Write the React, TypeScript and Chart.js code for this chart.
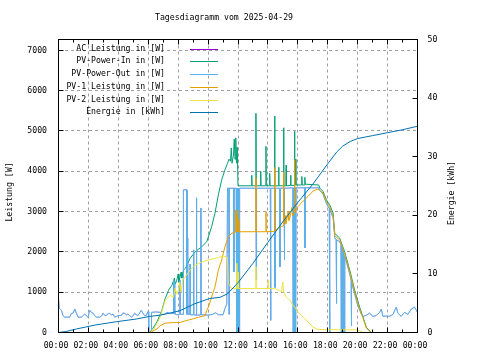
import React, { useEffect, useRef } from 'react';
import { Chart, registerables } from 'chart.js';

Chart.register(...registerables);

const FONT_FAMILY = '"DejaVu Sans Mono", monospace';
const FONT_SIZE = 8.2;

const titleText = 'Tagesdiagramm vom 2025-04-29';
const leftAxisTitle = 'Leistung [W]';
const rightAxisTitle = 'Energie [kWh]';

const seriesLabels = [
  'AC Leistung in [W]',
  'PV-Power-In in [W]',
  'PV-Power-Out in [W]',
  'PV-1 Leistung in [W]',
  'PV-2 Leistung in [W]',
  'Energie in [kWh]',
];
const seriesColors = ['#9400d3', '#009e73', '#56b4e9', '#e69f00', '#f0e442', '#0072b2'];

// [hour, watts]
const pvOut: [number, number][] = [
  [0, 850], [0.05, 600], [0.2, 550], [0.3, 420], [0.4, 380], [0.76, 380], [0.85, 470], [0.98, 480],
  [1.09, 580], [1.2, 480], [1.3, 380], [1.53, 380], [1.65, 420], [1.76, 460], [1.9, 400], [1.98, 380],
  [2.09, 550], [2.2, 500], [2.31, 480], [2.45, 400], [2.53, 380], [2.76, 380], [2.9, 420], [2.98, 480],
  [3.1, 420], [3.2, 430], [3.3, 460], [3.42, 480], [3.55, 430], [3.64, 460], [3.76, 380], [3.98, 420],
  [4.2, 420], [4.3, 480], [4.42, 480], [4.55, 430], [4.64, 460], [4.75, 420], [4.87, 380], [5.0, 420],
  [5.09, 480], [5.2, 440], [5.31, 420], [5.45, 500], [5.53, 550], [5.64, 480], [5.75, 420], [5.87, 420],
  [5.98, 520], [6.02, 520], [6.03, 0], [6.2, 0], [6.22, 500],
  [6.5, 510], [6.8, 500], [6.9, 450], [7.1, 450], [7.24, 500], [7.47, 470], [7.68, 470], [7.69, 1300],
  [7.71, 470], [7.75, 1250], [7.77, 460], [7.91, 440], [8.1, 450], [8.12, 1300], [8.14, 460], [8.34, 450],
  [8.35, 3540], [8.58, 3540], [8.59, 450], [8.64, 2340], [8.66, 450], [8.78, 450], [8.8, 1700], [8.82, 440],
  [9.02, 440], [9.03, 2050], [9.05, 440], [9.2, 430], [9.22, 3340], [9.24, 430], [9.36, 430], [9.5, 440],
  [9.52, 3090], [9.54, 440], [9.7, 440], [10.0, 430], [10.3, 450], [10.5, 490], [10.7, 440], [11.0, 440],
  [11.13, 600], [11.25, 700], [11.3, 3580], [11.38, 3580], [11.4, 450], [11.42, 3580], [11.7, 3580],
  [11.72, 1500], [11.74, 3580], [11.88, 3580], [11.9, 0], [11.92, 3580], [11.94, 0], [11.96, 3580],
  [11.98, 0], [12.0, 3580], [12.02, 0], [12.05, 3580], [12.08, 0], [12.11, 3580],
  [13.2, 3580], [13.22, 1300], [13.24, 3580], [14.16, 3580], [14.18, 300], [14.2, 3580], [14.45, 3580],
  [14.47, 1120], [14.49, 3580], [14.78, 3580], [14.8, 1630], [14.82, 3580], [15.08, 3580], [15.1, 1800],
  [15.12, 3580], [15.66, 3590], [15.68, 0], [15.71, 3590], [15.73, 0], [15.76, 3590], [15.79, 0],
  [15.82, 3590], [15.85, 0], [15.88, 3590], [16.45, 3590], [16.47, 2100], [16.49, 3590], [17.4, 3590],
  [17.47, 3520], [17.69, 3430], [17.91, 3200], [18.1, 3080], [18.12, 0], [18.15, 3050], [18.2, 3000],
  [18.36, 2850], [18.47, 2350], [18.56, 2300], [18.58, 720], [18.6, 2300], [18.8, 2250], [18.88, 2200],
  [18.9, 0], [18.93, 2150], [18.96, 0], [19.0, 2100], [19.03, 0], [19.07, 2000], [19.1, 0], [19.14, 1900],
  [19.47, 1450], [19.56, 1300], [19.58, 170], [19.6, 1250], [19.8, 950], [20.0, 680], [20.13, 560],
  [20.24, 465], [20.36, 400], [20.58, 430], [20.8, 480], [21.02, 400], [21.24, 420], [21.47, 500],
  [21.58, 580], [21.69, 400], [21.91, 410], [22.13, 400], [22.36, 450], [22.58, 630], [22.69, 480],
  [22.91, 400], [23.13, 500], [23.36, 450], [23.58, 580], [23.8, 630], [24, 500],
];

// AC output sits exactly under PV-Power-Out in the picture
const acPower: [number, number][] = pvOut;

const pvIn: [number, number][] = [
  [0, 0], [6.1, 0], [6.3, 100], [6.58, 260], [6.91, 550], [7.13, 840], [7.36, 1050], [7.58, 1170],
  [7.75, 1350], [7.8, 1200], [7.91, 1300], [8.0, 1450], [8.05, 1250], [8.2, 1500], [8.25, 1350],
  [8.36, 1550], [8.5, 1600], [8.8, 1840], [9.13, 2000], [9.58, 2130], [9.91, 2250], [10.24, 2630],
  [10.46, 2960], [10.69, 3420], [10.91, 3790], [11.13, 4040], [11.3, 4200], [11.4, 4300], [11.5, 4250],
  [11.55, 4580], [11.6, 4200], [11.7, 4400], [11.75, 4800], [11.8, 4300], [11.85, 4830], [11.9, 4200],
  [11.95, 4600], [12.0, 3640],
  [12.9, 3640], [12.92, 3900], [12.94, 3640], [13.18, 3640], [13.2, 5440], [13.22, 3640], [13.5, 3640],
  [13.52, 4000], [13.54, 3640], [13.85, 3640], [13.87, 4620], [13.89, 3640], [14.1, 3640], [14.12, 3950],
  [14.14, 3640], [14.43, 3640], [14.45, 5370], [14.47, 3640], [14.7, 3640], [14.72, 4100], [14.74, 3640],
  [15.03, 3640], [15.05, 5080], [15.07, 3640], [15.2, 3640], [15.22, 4150], [15.24, 3640], [15.5, 3650],
  [15.52, 3900], [15.54, 3650], [15.76, 3650], [15.78, 4990], [15.8, 3650], [15.85, 4300], [15.87, 3660],
  [16.25, 3660], [16.27, 3870], [16.29, 3660], [16.45, 3660], [16.47, 3850], [16.49, 3680], [17.4, 3660],
  [17.47, 3580], [17.69, 3500], [17.91, 3290], [18.13, 3170], [18.36, 2960], [18.47, 2460], [18.8, 2340],
  [19.13, 2000], [19.47, 1550], [19.8, 1050], [20.13, 630], [20.36, 380], [20.58, 130], [20.9, 0], [24, 0],
];

const pv1: [number, number][] = [
  [0, 0], [6.13, 0], [6.58, 90], [6.8, 170], [7.13, 230], [7.69, 250], [8.13, 250], [8.58, 300],
  [9.02, 340], [9.36, 380], [9.8, 420], [9.91, 550], [10.02, 630], [10.2, 840], [10.46, 1130],
  [10.69, 1550], [10.91, 1800], [11.13, 2130], [11.36, 2380], [11.58, 2460], [11.8, 2490], [11.84, 2490],
  [11.85, 3040], [11.87, 2500], [11.92, 2900], [11.94, 2500], [11.98, 3040], [12.0, 2500], [12.05, 2800],
  [12.07, 2500], [13.18, 2500], [13.2, 3840], [13.22, 2500], [13.85, 2500], [13.87, 3000], [13.89, 2500],
  [14.43, 2510], [14.45, 4090], [14.47, 2520], [14.69, 2590], [14.91, 2630], [15.03, 2650], [15.05, 3980],
  [15.07, 2700], [15.15, 2900], [15.2, 2700], [15.24, 2760], [15.35, 3000], [15.4, 2780], [15.47, 2840],
  [15.6, 3100], [15.65, 2900], [15.76, 2960], [15.78, 4290], [15.8, 2980], [16.02, 3130], [16.36, 3260],
  [16.69, 3380], [17.02, 3510], [17.33, 3560], [17.47, 3520], [17.69, 3460], [17.91, 3250], [18.13, 3120],
  [18.36, 2900], [18.47, 2400], [18.8, 2300], [19.13, 1950], [19.47, 1500], [19.8, 1000], [20.13, 580],
  [20.36, 350], [20.58, 110], [20.9, 0], [24, 0],
];

const pv2: [number, number][] = [
  [0, 0], [6.13, 0], [6.4, 100], [6.8, 380], [7.13, 800], [7.47, 920], [7.69, 880], [7.8, 1100],
  [7.9, 950], [8.02, 1050], [8.1, 1250], [8.2, 1000], [8.3, 1300], [8.47, 1380], [8.8, 1550],
  [9.13, 1670], [9.58, 1750], [10.13, 1810], [10.69, 1860], [11.02, 1900], [11.29, 1860], [11.36, 1210],
  [11.58, 1090], [11.9, 1090], [11.92, 1720], [11.95, 1090], [12.0, 1500], [12.03, 1090], [13.18, 1090],
  [13.2, 1630], [13.22, 1090], [14.0, 1090], [14.02, 1300], [14.04, 1090], [14.47, 1090], [14.69, 1050],
  [14.91, 1010], [15.0, 1250], [15.05, 1000], [15.24, 880], [15.47, 800], [15.69, 670], [16.02, 510],
  [16.36, 380], [16.69, 260], [17.02, 130], [17.36, 75], [18.0, 70], [20.0, 65], [20.36, 0], [24, 0],
];

// [hour, kWh]
const energy: [number, number][] = [
  [0, 0], [0.5, 0.17], [1.2, 0.6], [2.5, 1.3], [3.9, 1.85], [5.2, 2.3], [6.1, 2.75], [6.8, 2.95],
  [8.1, 3.7], [9.1, 4.9], [10.1, 5.8], [10.8, 6.0], [11.3, 6.6], [12, 8.5], [13, 11.8], [14, 15.4],
  [15, 18.9], [16, 22.2], [17, 25.3], [18, 28.8], [18.6, 30.8], [19, 31.8], [19.5, 32.6], [20, 33.1],
  [20.5, 33.35], [21, 33.6], [22, 34.1], [23, 34.6], [24, 35.2],
];

const hourTicks = [0, 2, 4, 6, 8, 10, 12, 14, 16, 18, 20, 22, 24];
const powerTicks = [0, 1000, 2000, 3000, 4000, 5000, 6000, 7000];
const energyTicks = [0, 10, 20, 30, 40, 50];

const POWER_MAX = 7270;
const ENERGY_MAX = 50;

const font = (): string => `${FONT_SIZE}px ${FONT_FAMILY}`;

const decorPlugin = {
  id: 'decor',
  afterDraw(chart: any) {
    const { ctx, chartArea: a, scales } = chart;
    ctx.save();
    ctx.strokeStyle = '#000';
    ctx.lineWidth = 1;
    ctx.setLineDash([]);
    ctx.strokeRect(a.left, a.top, a.right - a.left, a.bottom - a.top);

    ctx.beginPath();
    for (const v of powerTicks) {
      const y = Math.floor(scales.y.getPixelForValue(v)) + 0.5;
      ctx.moveTo(a.left, y);
      ctx.lineTo(a.left + 5, y);
    }
    for (const v of energyTicks) {
      const y = Math.floor(scales.y2.getPixelForValue(v)) + 0.5;
      ctx.moveTo(a.right, y);
      ctx.lineTo(a.right - 5, y);
    }
    for (let h = 0; h <= 24; h++) {
      const x = Math.floor(scales.x.getPixelForValue(h)) + 0.5;
      const len = h % 2 === 0 ? 5 : 3;
      ctx.moveTo(x, a.bottom);
      ctx.lineTo(x, a.bottom - len);
      ctx.moveTo(x, a.top);
      ctx.lineTo(x, a.top + len);
    }
    ctx.stroke();

    ctx.fillStyle = '#000';
    ctx.font = font();
    ctx.textBaseline = 'middle';
    ctx.textAlign = 'center';
    ctx.fillText(titleText, 224, 18);

    ctx.save();
    ctx.translate(10, 192);
    ctx.rotate(-Math.PI / 2);
    ctx.fillText(leftAxisTitle, 0, 0);
    ctx.restore();
    ctx.save();
    ctx.translate(452, 193);
    ctx.rotate(-Math.PI / 2);
    ctx.fillText(rightAxisTitle, 0, 0);
    ctx.restore();

    ctx.textAlign = 'right';
    seriesLabels.forEach((label, i) => {
      const ty = 48.5 + i * 12.75;
      ctx.fillStyle = '#000';
      ctx.fillText(label, 165, ty);
      ctx.strokeStyle = seriesColors[i];
      ctx.beginPath();
      const ly = Math.floor(49 + i * 12.75) + 0.5;
      ctx.moveTo(190, ly);
      ctx.lineTo(218, ly);
      ctx.stroke();
    });
    ctx.restore();
  },
};

const toPoints = (arr: [number, number][]) => arr.map(([x, y]) => ({ x, y }));

export default function App() {
  const ref = useRef<HTMLCanvasElement>(null);
  useEffect(() => {
    const series = [acPower, pvIn, pvOut, pv1, pv2, energy];
    const datasets = series.map((arr, i) => ({
      label: seriesLabels[i],
      data: toPoints(arr),
      borderColor: seriesColors[i],
      backgroundColor: seriesColors[i],
      borderWidth: i === 0 ? 0.4 : 1,
      pointRadius: 0,
      fill: false,
      tension: 0,
      yAxisID: i === 5 ? 'y2' : 'y',
      // lower order is painted on top: energy on top, AC at the bottom
      order: 6 - i,
    }));
    const tickFont = { family: FONT_FAMILY, size: FONT_SIZE };
    const plain = (v: any) => String(v);
    const chart = new Chart(ref.current as HTMLCanvasElement, {
      type: 'line',
      data: { datasets },
      options: {
        responsive: false,
        devicePixelRatio: 1,
        animation: false,
        layout: { padding: { top: 39.5, left: 0, right: 0, bottom: 0 } },
        plugins: {
          legend: { display: false },
          tooltip: { enabled: false },
          title: { display: false },
        },
        scales: {
          x: {
            type: 'linear',
            min: 0,
            max: 24,
            afterFit: (s: any) => { s.height = 27.5; },
            afterBuildTicks: (s: any) => { s.ticks = hourTicks.map((v) => ({ value: v })); },
            ticks: {
              autoSkip: false,
              maxRotation: 0,
              font: tickFont,
              color: '#000',
              padding: 8,
              labelOffset: -2.5,
              callback: (v: any) => `${String(Number(v) % 24).padStart(2, '0')}:00`,
            },
            grid: { color: '#a0a0a0', lineWidth: 1, drawTicks: false },
            border: { display: false, dash: [3, 3] },
          },
          y: {
            position: 'left',
            min: 0,
            max: POWER_MAX,
            afterFit: (s: any) => { s.width = 58.5; },
            afterBuildTicks: (s: any) => { s.ticks = powerTicks.map((v) => ({ value: v })); },
            ticks: { font: tickFont, color: '#000', padding: 11.5, callback: plain },
            grid: { color: '#a0a0a0', lineWidth: 1, drawTicks: false },
            border: { display: false, dash: [3, 3] },
          },
          y2: {
            position: 'right',
            min: 0,
            max: ENERGY_MAX,
            afterFit: (s: any) => { s.width = 62.5; },
            afterBuildTicks: (s: any) => { s.ticks = energyTicks.map((v) => ({ value: v })); },
            ticks: { font: tickFont, color: '#000', padding: 10, callback: plain },
            grid: { drawOnChartArea: false, drawTicks: false },
            border: { display: false },
          },
        },
      },
      plugins: [decorPlugin],
    } as any);
    return () => chart.destroy();
  }, []);
  return (
    <div style={{ position: 'fixed', left: 0, top: 0, width: 480, height: 360, background: '#fff' }}>
      <canvas ref={ref} width={480} height={360} style={{ display: 'block' }} />
    </div>
  );
}
